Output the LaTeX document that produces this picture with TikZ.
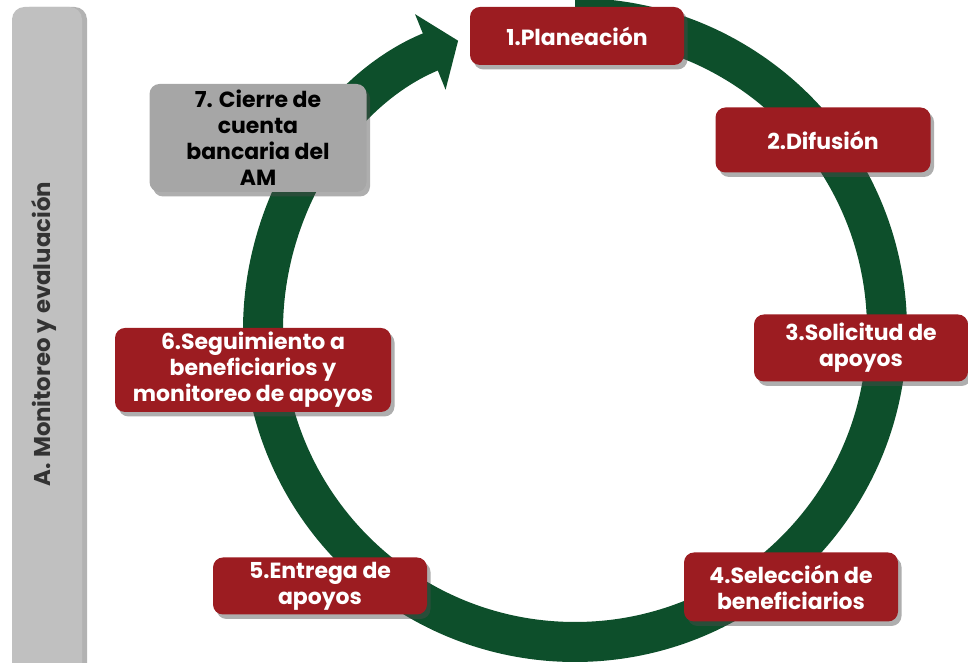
\documentclass[tikz,border=0pt]{standalone}
\usepackage{fontspec}
\setmainfont{Poppins}
\usetikzlibrary{arrows.meta,shadows}
\definecolor{guinda}{HTML}{9C1C21}
\definecolor{verde}{HTML}{0D4F2B}
\definecolor{grisetapa}{HTML}{A6A6A6}
\definecolor{grisbarra}{HTML}{C0C0C0}
\begin{document}
\begin{tikzpicture}[
        etapa/.style={fill=guinda, text=white, rounded corners=0.2cm, align=center, inner sep=0pt,
            font=\bfseries\fontsize{12.5}{14.8}\selectfont,
            drop shadow={shadow xshift=0.07cm, shadow yshift=-0.09cm, opacity=0.45, fill=black!70}},
        cierre/.style={etapa, fill=grisetapa, text=black},
        barra/.style={fill=grisbarra, rounded corners=0.25cm, inner sep=0pt,
            drop shadow={shadow xshift=0.1cm, shadow yshift=0cm, opacity=0.5, fill=black!60}}
    ]
    \useasboundingbox (0,0) rectangle (19.36,13.26);

    % The side bar
    \node[barra, minimum width=1.4cm, minimum height=13.6cm] (barra) at (0.94,6.32) {};
    \node[rotate=90, text=black!80, font=\bfseries\fontsize{13}{15}\selectfont] (monitoreo) at (0.88,6.58) {A. Monitoreo y evaluación};

    % Centre of the cycle
    \coordinate (O) at (11.5,6.66);

    % The ring
    \draw[verde, line width=0.8cm, -{Triangle[width=1.6cm,length=0.6cm]}]
        ([shift={(90:6.24)}]O) arc[start angle=90, end angle=-248, radius=6.24];

    % The stages
    \node[etapa, minimum width=4.28cm, minimum height=1.16cm] (planeacion) at (11.54,12.54) {1.Planeación};
    \node[etapa, minimum width=4.3cm, minimum height=1.3cm] (difusion) at (16.46,10.46) {2.Difusión};
    \node[etapa, minimum width=4.28cm, minimum height=1.34cm] (solicitud) at (17.22,6.3) {3.Solicitud de\\apoyos};
    \node[etapa, minimum width=4.28cm, minimum height=1.38cm] (seleccion) at (15.82,1.52) {4.Selección de\\beneficiarios};
    \node[etapa, minimum width=4.28cm, minimum height=1.14cm] (entrega) at (6.4,1.54) {5.Entrega de\\apoyos};
    \node[etapa, minimum width=5.52cm, minimum height=1.68cm] (seguimiento) at (5.06,5.86) {6.Seguimiento a\\beneficiarios y\\monitoreo de apoyos};
    \node[cierre, minimum width=4.34cm, minimum height=2.16cm] (cierre) at (5.16,10.5) {7. Cierre de\\cuenta\\bancaria del\\AM};
\end{tikzpicture}
\end{document}
